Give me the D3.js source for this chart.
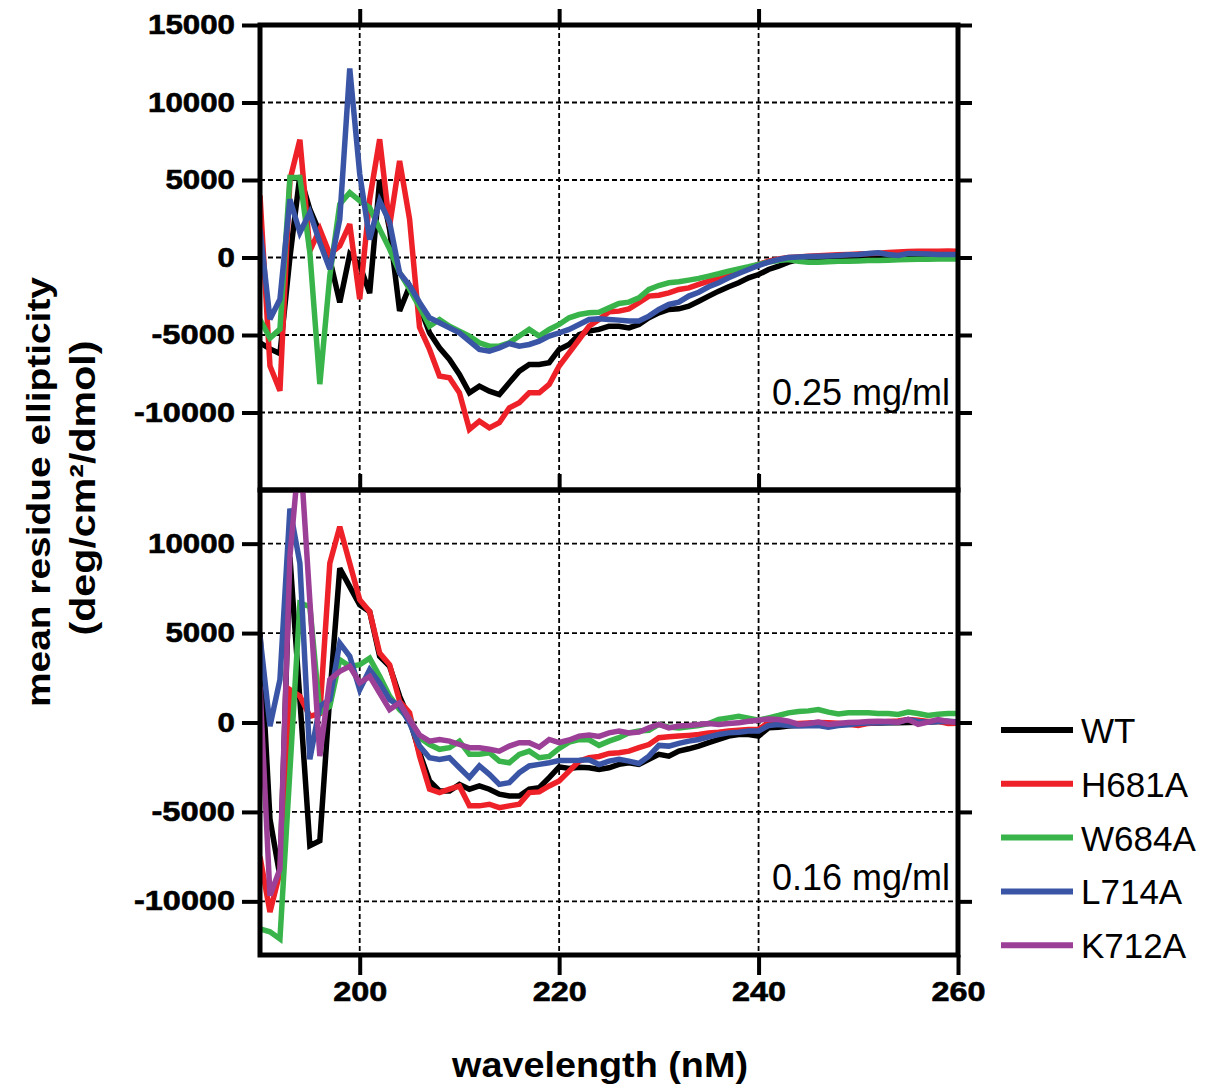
<!DOCTYPE html>
<html lang="en">

<head>
    <meta charset="UTF-8">
    <title>CD spectra</title>
    <script src="https://cdn.jsdelivr.net/npm/d3@7"></script>
    <style>
        * {
            margin: 0;
        }

        body {
            background: #fff;
        }
    </style>
</head>

<body>
    <div id="chart"></div>
    <script>
        // wavelength, 1 nm steps
        var wavelength = d3.range(190, 261);

        var seriesNames = ["WT", "H681A", "W684A", "L714A", "K712A"];
        var seriesColors = ["#000000", "#ee2128", "#39b44a", "#3a55a5", "#9c3f97"];

        // 0.25 mg/ml panel
        var topWT = [-5500, -5900, -6200, 0, 5300, 3100, 1600, -100, -2900, 200,
            -500, -2300, 5000, 1800, -3450, -1850, -3140, -4860, -5830, -6580,
            -7550, -8730, -8300, -8620, -8840, -8080, -7330, -6900, -6900, -6790,
            -5930, -5610, -4970, -4750, -4640, -4430, -4430, -4540, -4320, -3890,
            -3570, -3350, -3310, -3140, -2820, -2490, -2170, -1890, -1630, -1310,
            -1100, -770, -560, -300, -130, -50, 0, 0, 20, 30,
            50, 50, 80, 100, 100, 120, 120, 130, 130, 140, 130];
        var topH681A = [4000, -7000, -8600, 5000, 7600, 430, 1830, 215, 750, 2150,
            -2690, 3760, 7630, 2040, 6235, 2470, -4500, -5930, -7650, -7760,
            -8730, -11090, -10560, -10990, -10660, -9700, -9370, -8730, -8730, -8190,
            -7000, -6150, -5290, -4430, -4000, -3500, -3460, -3310, -2920, -2490,
            -2430, -2280, -2060, -1960, -1740, -1530, -1310, -1100, -880, -670,
            -450, -240, -90, 0, 40, 80, 110, 150, 170, 190,
            220, 250, 280, 320, 350, 380, 400, 400, 400, 420, 400];
        var topW684A = [-4000, -5200, -4620, 5160, 5160, 320, -8170, -1180, 3440, 4190,
            3655, 3225, 1830, 540, -970, -2040, -3200, -4430, -4000, -4430,
            -4750, -5070, -5500, -5720, -5720, -5500, -5070, -4640, -5070, -4640,
            -4320, -3890, -3680, -3570, -3530, -3250, -2970, -2880, -2600, -2060,
            -1810, -1630, -1570, -1460, -1350, -1200, -1050, -880, -730, -600,
            -450, -300, -190, -130, -250, -300, -300, -280, -250, -240,
            -220, -200, -190, -170, -150, -130, -120, -110, -100, -90, -90];
        var topL714A = [1830, -3980, -2690, 3760, 1610, 2900, 970, -750, 2470, 12200,
            5400, 1160, 3655, 2260, -1000, -1800, -2900, -3890, -4210, -4540,
            -4860, -5400, -5930, -6040, -5830, -5550, -5720, -5610, -5400, -5070,
            -4860, -4640, -4320, -4000, -3960, -4000, -4040, -4100, -4100, -3780,
            -3350, -3030, -2880, -2490, -2240, -1890, -1630, -1310, -1030, -770,
            -520, -300, -130, 0, 30, 60, 80, 100, 130, 170,
            200, 260, 300, 200, 130, 260, 250, 220, 200, 190, 200];

        // 0.16 mg/ml panel
        var botWT = [5000, -5400, -8600, 9270, 1280, -6890, -6610, 1470, 8620, 7600,
            6580, 6200, 3700, 3140, 1470, 170, -1690, -3270, -3830, -3830,
            -3460, -3730, -3550, -3730, -4010, -4110, -4110, -3730, -3650, -3080,
            -2480, -2570, -2500, -2530, -2620, -2530, -2340, -2250, -2340, -2060,
            -1780, -1880, -1600, -1470, -1320, -1130, -950, -760, -670, -670,
            -760, -300, -260, -200, -150, -120, -100, -80, -70, -60,
            -50, -40, -30, -20, -10, 0, 20, 30, 60, 50, 40];
        var botH681A = [-7500, -10600, -8380, 1840, 1470, 350, 500, 8900, 10940, 8900,
            6860, 6200, 3880, 3230, 1190, 540, -1880, -3730, -3920, -3730,
            -3550, -4660, -4660, -4570, -4760, -4660, -4570, -3920, -3880, -3550,
            -3270, -2720, -2160, -1970, -1900, -1730, -1690, -1600, -1410, -1230,
            -850, -800, -760, -720, -670, -580, -540, -480, -430, -390,
            -390, 0, -40, -50, -60, -30, 0, -20, -40, -100,
            -170, -50, 0, 50, 80, 170, 120, 60, 70, -50, -40];
        var botW684A = [-11540, -11700, -12100, -2700, 6670, 6480, 540, 910, 3510, 3140,
            3230, 3600, 2580, 1470, 720, 200, -850, -1230, -1500, -1410,
            -1040, -1780, -1780, -1690, -2160, -2250, -1780, -1600, -1970, -1900,
            -1450, -1100, -950, -970, -1280, -1040, -850, -580, -480, -430,
            -110, -260, -300, -240, -170, -60, 170, 260, 350, 240,
            130, 260, 390, 540, 610, 650, 720, 580, 480, 540,
            540, 540, 500, 500, 450, 580, 500, 390, 460, 500, 500];
        var botL714A = [4810, -200, 2400, 11960, 8900, -2060, 910, 1280, 4440, 3700,
            1840, 2950, 2210, 1280, 910, -20, -1320, -1970, -2060, -1970,
            -2530, -3080, -2430, -2900, -3460, -3360, -2810, -2430, -2340, -2250,
            -2130, -2120, -2110, -2080, -2350, -2160, -2060, -2160, -2290, -1880,
            -1280, -1320, -1170, -1040, -950, -800, -670, -580, -540, -480,
            -480, -170, -110, -170, -200, -180, -170, -260, -170, -120,
            -60, -30, -20, 0, 20, 170, 60, 20, 50, 70, 20];
        var botK712A = [2000, -9680, -8190, 9270, 15500, 6800, -1880, 2400, 2860, 3140,
            2210, 2580, 1650, 720, 1100, 170, -700, -1040, -950, -1040,
            -1230, -1410, -1410, -1500, -1600, -1320, -1130, -1130, -1380, -950,
            -1120, -980, -760, -700, -780, -580, -480, -580, -540, -300,
            -110, -300, -200, -170, -110, -60, -110, -60, -20, 70,
            130, 200, 170, 70, -110, -60, 20, -110, -60, 0,
            20, 50, 70, 50, 20, 170, -110, 20, 170, 60, 20];

        var xTicks = [200, 220, 240, 260];
        var topTicks = [-10000, -5000, 0, 5000, 10000, 15000];
        var botTicks = [-10000, -5000, 0, 5000, 10000];

        var W = 1213, H = 1089;
        var left = 260, right = 958;

        var svg = d3.select("#chart").append("svg")
            .attr("width", W)
            .attr("height", H)
            .style("font-family", "'Liberation Sans', Arial, sans-serif");

        var x = d3.scaleLinear().domain([190, 260]).range([left, right]);

        var panels = [
            {
                id: "top", y: d3.scaleLinear().domain([-15000, 15000]).range([490, 25]),
                series: [topWT, topH681A, topW684A, topL714A], ticks: topTicks,
                label: "0.25 mg/ml", labelY: 405
            },
            {
                id: "bot", y: d3.scaleLinear().domain([-13000, 13000]).range([955, 490]),
                series: [botWT, botH681A, botW684A, botL714A, botK712A], ticks: botTicks,
                label: "0.16 mg/ml", labelY: 890
            }
        ];

        // heavy, wide tick labels: fix the width per character
        function styleTickText(sel, size, perDigit) {
            sel.selectAll("text")
                .attr("font-size", size)
                .attr("font-weight", "bold")
                .attr("fill", "#000")
                .attr("stroke", "#000").attr("stroke-width", 0.6)
                .attr("textLength", function (d) {
                    var s = String(d);
                    return s.replace("-", "").length * perDigit + (s[0] == "-" ? 14 : 0);
                })
                .attr("lengthAdjust", "spacingAndGlyphs");
        }

        panels.forEach(function (p) {
            var y = p.y;
            var y0 = y.range()[1], y1 = y.range()[0];

            svg.append("clipPath").attr("id", "clip-" + p.id)
                .append("rect")
                .attr("x", left).attr("y", y0)
                .attr("width", right - left).attr("height", y1 - y0);

            var g = svg.append("g");

            // dashed grid
            g.selectAll(".hg").data(p.ticks.filter(function (t) { return y(t) > y0 + 3; }))
                .enter().append("line")
                .attr("x1", left).attr("x2", right)
                .attr("y1", function (d) { return y(d); })
                .attr("y2", function (d) { return y(d); })
                .attr("stroke", "#000").attr("stroke-width", 1.8)
                .attr("stroke-dasharray", "5,3");
            g.selectAll(".vg").data([200, 220, 240])
                .enter().append("line")
                .attr("y1", y0).attr("y2", y1)
                .attr("x1", function (d) { return x(d); })
                .attr("x2", function (d) { return x(d); })
                .attr("stroke", "#000").attr("stroke-width", 1.8)
                .attr("stroke-dasharray", "5,3");

            // spectra
            var line = d3.line()
                .x(function (d, i) { return x(wavelength[i]); })
                .y(function (d) { return y(d); });

            g.append("g").attr("clip-path", "url(#clip-" + p.id + ")")
                .selectAll("path").data(p.series)
                .enter().append("path")
                .attr("d", line)
                .attr("fill", "none")
                .attr("stroke", function (d, i) { return seriesColors[i]; })
                .attr("stroke-width", 5.5)
                .attr("stroke-linejoin", "miter")
                .attr("stroke-miterlimit", 3);

            // left axis
            var ax = g.append("g").attr("transform", "translate(" + left + ",0)")
                .call(d3.axisLeft(y).tickValues(p.ticks).tickSize(18).tickPadding(7)
                    .tickFormat(function (d) { return String(d); }));
            ax.select(".domain").remove();
            ax.selectAll(".tick line").attr("stroke-width", 4);
            styleTickText(ax, 27, 17.4);

            // right axis ticks
            var ar = g.append("g").attr("transform", "translate(" + right + ",0)")
                .call(d3.axisRight(y).tickValues(p.ticks).tickSize(14).tickFormat(""));
            ar.select(".domain").remove();
            ar.selectAll(".tick line").attr("stroke-width", 4);

            // top ticks of panel
            var at = g.append("g").attr("transform", "translate(0," + y0 + ")")
                .call(d3.axisTop(x).tickValues([200, 220, 240]).tickSize(16).tickFormat(""));
            at.select(".domain").remove();
            at.selectAll(".tick line").attr("stroke-width", 4);

            // frame
            g.append("rect")
                .attr("x", left).attr("y", y0)
                .attr("width", right - left).attr("height", y1 - y0)
                .attr("fill", "none").attr("stroke", "#000").attr("stroke-width", 5);

            g.append("text")
                .attr("x", 950).attr("y", p.labelY)
                .attr("text-anchor", "end")
                .attr("font-size", 36)
                .text(p.label);
        });

        // bottom x axis
        var ab = svg.append("g").attr("transform", "translate(0,955)")
            .call(d3.axisBottom(x).tickValues(xTicks).tickSize(20).tickPadding(6)
                .tickFormat(function (d) { return String(d); }));
        ab.select(".domain").remove();
        ab.selectAll(".tick line").attr("stroke-width", 4);
        styleTickText(ab, 28, 18);

        // axis titles
        svg.append("text")
            .attr("transform", "translate(50,492) rotate(-90)")
            .attr("text-anchor", "middle")
            .attr("font-size", 34).attr("font-weight", "bold")
            .attr("textLength", 430).attr("lengthAdjust", "spacingAndGlyphs")
            .text("mean residue ellipticity");
        svg.append("text")
            .attr("transform", "translate(95,488) rotate(-90)")
            .attr("text-anchor", "middle")
            .attr("font-size", 35).attr("font-weight", "bold")
            .attr("textLength", 295).attr("lengthAdjust", "spacingAndGlyphs")
            .text("(deg/cm²/dmol)");
        svg.append("text")
            .attr("x", 600).attr("y", 1077)
            .attr("text-anchor", "middle")
            .attr("font-size", 35).attr("font-weight", "bold")
            .attr("textLength", 296).attr("lengthAdjust", "spacingAndGlyphs")
            .text("wavelength (nM)");

        // legend
        var legend = svg.append("g").selectAll("g").data(seriesNames)
            .enter().append("g")
            .attr("transform", function (d, i) { return "translate(1001," + (730 + i * 53.8) + ")"; });
        legend.append("line")
            .attr("x1", 0).attr("x2", 72)
            .attr("stroke", function (d, i) { return seriesColors[i]; })
            .attr("stroke-width", 6);
        legend.append("text")
            .attr("x", 80).attr("y", 13)
            .attr("font-size", 35)
            .text(function (d) { return d; });
    </script>
</body>

</html>
